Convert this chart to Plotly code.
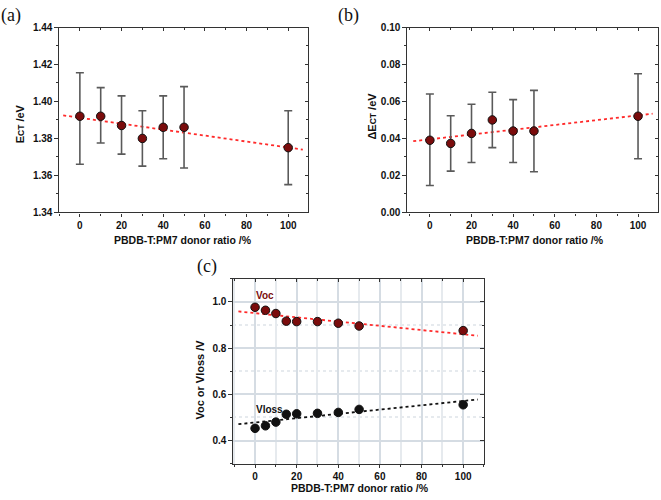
import numpy as np
import plotly.graph_objects as go

# ---------------- data ----------------
ratio_ab = [0, 10, 20, 30, 40, 50, 100]
ect = [1.392, 1.392, 1.387, 1.380, 1.386, 1.386, 1.375]
ect_hi = [1.4155, 1.4075, 1.403, 1.395, 1.403, 1.408, 1.395]
ect_lo = [1.366, 1.3775, 1.3715, 1.365, 1.369, 1.364, 1.355]

dect = [0.039, 0.0373, 0.0427, 0.050, 0.044, 0.044, 0.052]
dect_hi = [0.064, 0.0523, 0.0585, 0.065, 0.061, 0.066, 0.075]
dect_lo = [0.0145, 0.0223, 0.027, 0.035, 0.027, 0.022, 0.029]

ratio_c = [0, 5, 10, 15, 20, 30, 40, 50, 100]
voc = [0.977, 0.964, 0.950, 0.917, 0.915, 0.915, 0.908, 0.896, 0.876]
vloss = [0.453, 0.464, 0.480, 0.514, 0.516, 0.518, 0.522, 0.535, 0.555]

fit_span = [-8, 107]

x_title = "PBDB-T:PM7 donor ratio /%"

# ---------------- style ----------------
FONT = "Liberation Sans, Arial, sans-serif"
SERIF = "Liberation Serif, DejaVu Serif, serif"
AX = "#333333"
MARK = "#7a0c0c"
RED = "#ff2a2a"


def linfit(x, y):
    k, b = np.polyfit(x, y, 1)
    xs = np.array(fit_span, dtype=float)
    return xs, k * xs + b


fig = go.Figure()


def panel(xa, ya, x, y, hi=None, lo=None, color=MARK):
    ex = None
    if hi is not None:
        ex = dict(type="data", symmetric=False,
                  array=[h - v for h, v in zip(hi, y)],
                  arrayminus=[v - l for l, v in zip(lo, y)],
                  color="#5a5a5a", thickness=1.6, width=4)
    fx, fy = linfit(x, y)
    fig.add_trace(go.Scatter(x=fx, y=fy, mode="lines", xaxis=xa, yaxis=ya,
                             line=dict(color=RED if color == MARK else "#111111",
                                       width=1.8, dash="dot"),
                             showlegend=False, hoverinfo="skip"))
    fig.add_trace(go.Scatter(x=x, y=y, mode="markers", xaxis=xa, yaxis=ya,
                             error_y=ex,
                             marker=dict(color=color, size=8.5,
                                         line=dict(color="#111111", width=1)),
                             showlegend=False))


panel("x", "y", ratio_ab, ect, ect_hi, ect_lo)
panel("x2", "y2", ratio_ab, dect, dect_hi, dect_lo)
panel("x3", "y3", ratio_c, voc)
panel("x3", "y3", ratio_c, vloss, color="#111111")

tickfont = dict(family=FONT, size=10, color="#111111", weight="bold")

dom = {
    "a": ([0.0893, 0.466], [0.578, 0.956]),
    "b": ([0.6157, 0.9955], [0.578, 0.956]),
    "c": ([0.3525, 0.7322], [0.064, 0.442]),
}
xr = {"a": [-10, 109.5], "b": [-11, 109.6], "c": [-10.6, 110]}
yr = {"a": [1.34, 1.44], "b": [0.0, 0.10], "c": [0.3, 1.1]}
ydt = {"a": (0.02, 0.01, ".2f"), "b": (0.02, 0.01, ".2f"), "c": (0.2, 0.1, ".1f")}

GRID = "#d5dce3"
MGRID = "#e6eaee"


def main_x(p, anchor, grid=False):
    return dict(domain=dom[p][0], range=xr[p], anchor=anchor,
                showline=True, linecolor=AX, linewidth=1.3, mirror=True,
                ticks="outside", ticklen=3.5, tickwidth=1.2, tickcolor=AX,
                tick0=0, dtick=20, tickfont=tickfont, zeroline=False,
                showgrid=grid, gridcolor=GRID, gridwidth=1.5,
                minor=dict(ticks="outside", ticklen=2, tickwidth=1, tickcolor=AX,
                           dtick=10, tick0=0, showgrid=grid,
                           gridcolor=MGRID, gridwidth=1.5))


def main_y(p, anchor, grid=False):
    d, m, f = ydt[p]
    return dict(domain=dom[p][1], range=yr[p], anchor=anchor,
                showline=True, linecolor=AX, linewidth=1.3, mirror=True,
                ticks="outside", ticklen=3.5, tickwidth=1.2, tickcolor=AX,
                tick0=0, dtick=d, tickformat=f, tickfont=tickfont, zeroline=False,
                showgrid=grid, gridcolor=GRID, gridwidth=1.5,
                minor=dict(ticks="outside", ticklen=2, tickwidth=1, tickcolor=AX,
                           dtick=m, tick0=0, showgrid=grid,
                           gridcolor=MGRID, griddash="dot", gridwidth=1.5))


def over_x(p, over, anchor):
    return dict(domain=dom[p][0], range=xr[p], overlaying=over, anchor=anchor,
                side="top", showline=False, showgrid=False, zeroline=False,
                showticklabels=False, ticks="inside", ticklen=3.5, tickwidth=1.2,
                tickcolor=AX, tick0=0, dtick=20,
                minor=dict(ticks="inside", ticklen=2, tickwidth=1, tickcolor=AX,
                           dtick=10, tick0=0))


def over_y(p, over, anchor):
    d, m, f = ydt[p]
    return dict(domain=dom[p][1], range=yr[p], overlaying=over, anchor=anchor,
                side="right", showline=False, showgrid=False, zeroline=False,
                showticklabels=False, ticks="inside", ticklen=3.5, tickwidth=1.2,
                tickcolor=AX, tick0=0, dtick=d,
                minor=dict(ticks="inside", ticklen=2, tickwidth=1, tickcolor=AX,
                           dtick=m, tick0=0))


# empty traces so the overlay axes are drawn
for xa, ya in [("x4", "y"), ("x", "y4"), ("x5", "y2"), ("x2", "y5"), ("x6", "y3"), ("x3", "y6")]:
    fig.add_trace(go.Scatter(x=[None], y=[None], xaxis=xa, yaxis=ya,
                             showlegend=False, hoverinfo="skip"))

title_font = dict(family=FONT, size=10.5, color="#111111", weight="bold")
ann = [
    dict(text="(a)", x=11, y=10, font=dict(family=SERIF, size=18, color="#111111")),
    dict(text="(b)", x=348, y=10, font=dict(family=SERIF, size=18, color="#111111")),
    dict(text="(c)", x=207, y=266, font=dict(family=SERIF, size=18, color="#111111")),
    dict(text=x_title, x=183, y=239, font=title_font),
    dict(text=x_title, x=535, y=239, font=title_font),
    dict(text=x_title, x=360, y=493, font=title_font),
    dict(text="E<span style='font-size:8.5px'>CT</span> /eV", x=20, y=121,
         textangle=-90, font=dict(title_font, size=11)),
    dict(text="ΔE<span style='font-size:8.5px'>CT</span> /eV", x=372, y=112,
         textangle=-90, font=dict(title_font, size=11)),
    dict(text="Voc or Vloss /V", x=200, y=382, textangle=-90, font=dict(title_font, size=11)),
]
annotations = []
for a in ann:
    d = dict(xref="paper", yref="paper", x=a["x"] / 661, y=1 - a["y"] / 500,
             xanchor="center", yanchor="middle", showarrow=False,
             text=a["text"], font=a["font"])
    if "textangle" in a:
        d["textangle"] = a["textangle"]
    annotations.append(d)

annotations.append(dict(xref="x3", yref="y3", x=4.8, y=1.026, text="Voc",
                        showarrow=False, xanchor="center", yanchor="middle",
                        font=dict(family=FONT, size=10, color="#7a0c0c", weight="bold")))
annotations.append(dict(xref="x3", yref="y3", x=6.7, y=0.535, text="Vloss",
                        showarrow=False, xanchor="center", yanchor="middle",
                        font=dict(family=FONT, size=10, color="#111111", weight="bold")))

fig.update_layout(
    width=661, height=500,
    margin=dict(l=0, r=0, t=0, b=0),
    paper_bgcolor="white", plot_bgcolor="white",
    showlegend=False,
    xaxis=main_x("a", "y"), yaxis=main_y("a", "x"),
    xaxis2=main_x("b", "y2"), yaxis2=main_y("b", "x2"),
    xaxis3=main_x("c", "y3", grid=True), yaxis3=main_y("c", "x3", grid=True),
    xaxis4=over_x("a", "x", "y"), yaxis4=over_y("a", "y", "x"),
    xaxis5=over_x("b", "x2", "y2"), yaxis5=over_y("b", "y2", "x2"),
    xaxis6=over_x("c", "x3", "y3"), yaxis6=over_y("c", "y3", "x3"),
    annotations=annotations,
)

fig.write_html(
    "out.html",
    config={"displayModeBar": False},
    post_script="document.body.style.margin='0';document.body.style.padding='0';"
                "document.body.style.overflow='hidden';",
)
